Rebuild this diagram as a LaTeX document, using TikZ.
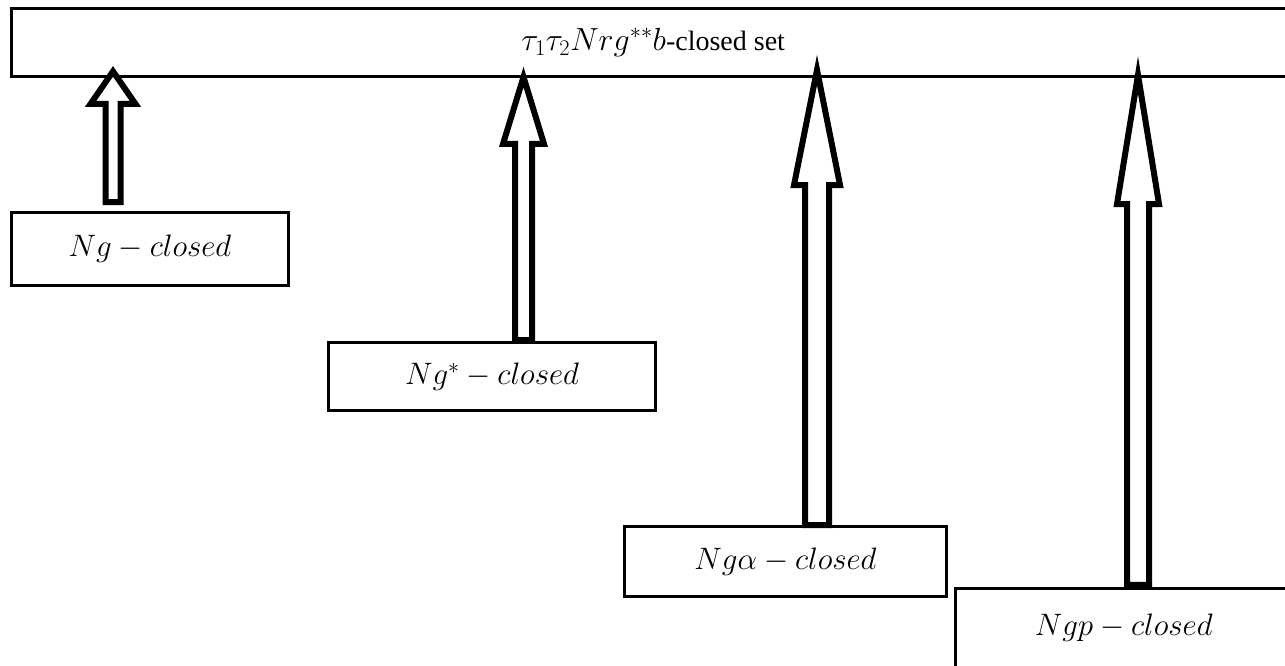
\documentclass[tikz,border=0pt]{standalone}
\usepackage{fix-cm}
\usepackage{fontspec}
\setmainfont{Liberation Serif}
\usetikzlibrary{calc}

\newcommand\labelsz{\fontsize{31}{36}\selectfont}
\newcommand\headmathsz{\fontsize{32}{37}\selectfont}
\newcommand\headtextsz{\fontsize{28}{32}\selectfont}

\tikzset{
  box/.style={draw, line width=3pt, inner sep=0pt, fill=white, font=\labelsz},
  headbox/.style={box, font=\headtextsz},
  hollow/.style={draw, line width=6pt, fill=white, miter limit=12},
}

% Hollow block arrow from the top of a box (#1) up to a tip (#2).
% #3 head half width, #4 shaft half width, #5 head length, #6 lift of the shaft foot above #1
\newcommand\hollowarrow[6]{%
  \draw[hollow] let \p1=(#2), \p2=(#1) in
    (\x1,\y1) -- (\x1+#3,\y1-#5) -- (\x1+#4,\y1-#5) -- (\x1+#4,\y2+#6)
    -- (\x1-#4,\y2+#6) -- (\x1-#4,\y1-#5) -- (\x1-#3,\y1-#5) -- cycle;
}

\begin{document}
\begin{tikzpicture}[x=1pt,y=-1pt]
  \clip (0,0) rectangle (1285,666);
  \fill[white] (0,0) rectangle (1285,666);

  % target class
  \node[headbox, minimum width=1283.5pt, minimum height=68pt] (top) at (653.25,42.5)
    {{\headmathsz$\tau_1\tau_2Nrg^{**}b$}{\headtextsz-closed set}};

  % source classes
  \node[box, minimum width=277pt, minimum height=73pt] (ng) at (150,249)
    {$Ng-closed$};
  \node[box, minimum width=327pt, minimum height=68pt] (ngstar) at (492,376.5)
    {$Ng^{*}-closed$};
  \node[box, minimum width=322pt, minimum height=70pt] (ngalpha) at (785.5,561.5)
    {$Ng\alpha-closed$};
  \node[box, minimum width=336.5pt, minimum height=79.5pt] (ngp) at (1123.75,628)
    {$Ngp-closed$};

  % arrow tips inside the target box
  \coordinate (t1) at (113,71.4);
  \coordinate (t2) at (523.5,77);
  \coordinate (t3) at (817,70);
  \coordinate (t4) at (1138,75);

  \hollowarrow{ng.north}{t1}{22.5pt}{7.5pt}{32.6pt}{9pt}
  \hollowarrow{ngstar.north}{t2}{20.5pt}{8.5pt}{67pt}{1pt}
  \hollowarrow{ngalpha.north}{t3}{23pt}{12pt}{115pt}{0pt}
  \hollowarrow{ngp.north}{t4}{21pt}{11pt}{129pt}{2pt}
\end{tikzpicture}
\end{document}
